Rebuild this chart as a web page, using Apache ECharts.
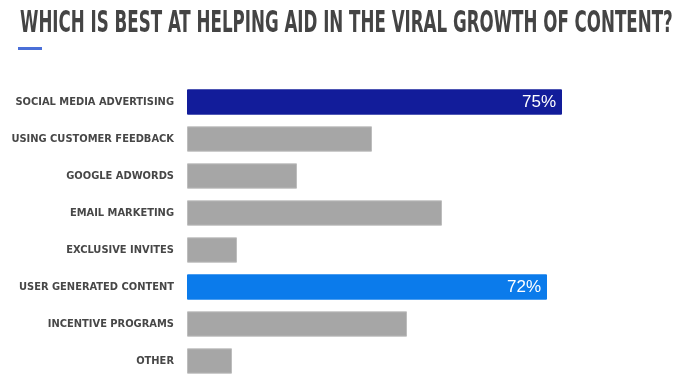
<!DOCTYPE html>
<html>
<head>
<meta charset="utf-8">
<script src="https://cdn.jsdelivr.net/npm/echarts@6/dist/echarts.min.js"></script>
<style>html,body{margin:0;padding:0;background:#fff;}#c{width:700px;height:388px;}</style>
</head>
<body>
<div id="c"></div>
<script>
var titleText = 'WHICH IS BEST AT HELPING AID IN THE VIRAL GROWTH OF CONTENT?';
var categories = ['SOCIAL MEDIA ADVERTISING','USING CUSTOMER FEEDBACK','GOOGLE ADWORDS','EMAIL MARKETING','EXCLUSIVE INVITES','USER GENERATED CONTENT','INCENTIVE PROGRAMS','OTHER'];
var values = [75, 37, 22, 51, 10, 72, 44, 9];
var labelled = ['SOCIAL MEDIA ADVERTISING','USER GENERATED CONTENT'];
var barColors = {'SOCIAL MEDIA ADVERTISING':'#121c9a','USER GENERATED CONTENT':'#0b7beb'};
var grayColor = '#a6a6a6';

var chart = echarts.init(document.getElementById('c'), null, {renderer:'canvas'});
var data = categories.map(function(c, i){
  var col = barColors[c] || grayColor;
  return {
    value: values[i],
    itemStyle: {color: col, borderColor: barColors[c] ? col : '#bdbdbd', borderWidth: 1},
    label: {show: labelled.indexOf(c) >= 0}
  };
});
chart.setOption({
  backgroundColor: '#ffffff',
  animation: false,
  graphic: [
    {type:'text', x: 20, y: 9, scaleX: 0.618,
     style:{text: titleText, font: 'bold 30px "DejaVu Sans Condensed"', fill:'#444444'}},
    {type:'rect', shape:{x:18, y:47, width:24, height:3}, style:{fill:'#4a6fd8'}}
  ],
  grid: {left: 187, right: 13, top: 83.5, height: 296, containLabel: false, outerBoundsMode: 'none'},
  xAxis: {type:'value', min:0, max:100, show:false},
  yAxis: {
    type:'category', data: categories, inverse: true,
    axisLine:{show:false}, axisTick:{show:false}, splitLine:{show:false},
    axisLabel:{color:'#474747', fontFamily:'DejaVu Sans Condensed', fontWeight:'bold', fontSize:11, margin:13}
  },
  series: [{
    type:'bar', data: data, barCategoryGap: '31.6%',
    label: {position:'insideRight', color:'#ffffff', fontSize:17, fontFamily:'Liberation Sans', distance:6,
      formatter: function(p){ return p.value + '%'; }}
  }]
});
</script>
</body>
</html>
